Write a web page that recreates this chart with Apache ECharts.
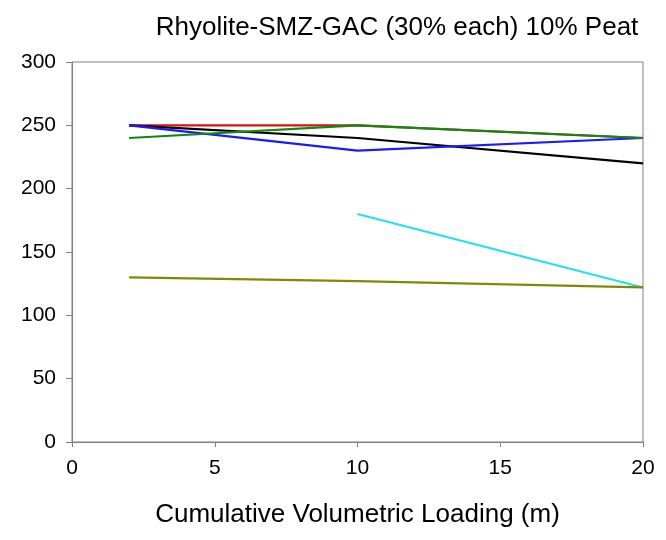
<!DOCTYPE html>
<html><head><meta charset="utf-8">
<script src="https://cdn.jsdelivr.net/npm/echarts@6/dist/echarts.min.js"></script>
<style>html,body{margin:0;padding:0;background:#fff}#c{width:666px;height:540px}</style>
</head><body><div id="c"></div>
<script>
const title = "Rhyolite-SMZ-GAC (30% each) 10% Peat";
const xName = "Cumulative Volumetric Loading (m)";
const redX = [2, 10, 20],    redY = [250, 250, 240];
const blackX = [2, 10, 20],  blackY = [250, 240, 220];
const blueX = [2, 10, 20],   blueY = [250, 230, 240];
const greenX = [2, 10, 20],  greenY = [240, 250, 240];
const cyanX = [10, 20],      cyanY = [180, 122];
const oliveX = [2, 10, 20],  oliveY = [130, 127, 122];

function pts(xs, ys){ return xs.map((x,i)=>[x, ys[i]]); }
function ser(name, xs, ys, color, z){
  return {name, type:'line', data: pts(xs, ys), symbol:'none', z,
    lineStyle:{color, width:2.2}, itemStyle:{color}};
}
const chart = echarts.init(document.getElementById('c'), null, {renderer:'canvas'});
const font = 'Liberation Sans, Arial, sans-serif';
chart.setOption({
  animation:false,
  backgroundColor:'#fff',
  title:{text:title, left:392, textAlign:'center', top:10,
    textStyle:{fontFamily:font, fontSize:26, fontWeight:'normal', color:'#000'}},
  grid:{left:72, right:23, top:62, bottom:98, show:true, borderColor:'#808080', borderWidth:1},
  xAxis:{type:'value', min:0, max:20, interval:5, name:xName, nameLocation:'middle', nameGap:60,
    nameTextStyle:{fontFamily:font, fontSize:26, color:'#000'},
    axisLine:{show:true, onZero:false, lineStyle:{color:'#808080'}},
    axisTick:{show:true, length:5, lineStyle:{color:'#808080'}},
    axisLabel:{fontFamily:font, fontSize:21, color:'#000', margin:16},
    splitLine:{show:false}},
  yAxis:{type:'value', min:0, max:300, interval:50,
    axisLine:{show:true, lineStyle:{color:'#808080'}},
    axisTick:{show:true, length:6, lineStyle:{color:'#808080'}},
    axisLabel:{fontFamily:font, fontSize:21, color:'#000', margin:16},
    splitLine:{show:false}},
  series:[
    ser('red', redX, redY, '#dd1111', 1),
    ser('black', blackX, blackY, '#000000', 2),
    ser('blue', blueX, blueY, '#1a1aff', 3),
    ser('green', greenX, greenY, '#118811', 4),
    ser('cyan', cyanX, cyanY, '#22e0f0', 5),
    ser('olive', oliveX, oliveY, '#7f8a00', 6)
  ]
});
</script></body></html>
